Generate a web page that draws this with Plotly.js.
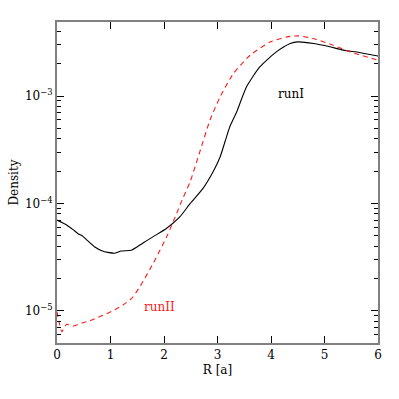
<!DOCTYPE html>
<html>
<head>
<meta charset="utf-8">
<script src="https://cdn.plot.ly/plotly-3.0.1.min.js"></script>
<style>
  html, body { margin: 0; padding: 0; background: #fff; }
  #chart { width: 399px; height: 399px; }
</style>
</head>
<body>
<div id="chart"></div>
<script>
// runI (solid black)
var runI_R = [0, 0.18, 0.3, 0.4, 0.47, 0.55, 0.7, 0.85, 0.95, 1.08, 1.2, 1.4, 1.6, 1.8, 2.05, 2.3, 2.49, 2.73, 2.92, 3.05, 3.15, 3.23, 3.36, 3.45, 3.55, 3.79, 4.1, 4.36, 4.5, 4.8, 5.1, 5.35, 5.65, 6.0];
var runI_D = [7.0e-5, 6.3e-5, 5.7e-5, 5.2e-5, 5.0e-5, 4.6e-5, 3.95e-5, 3.6e-5, 3.5e-5, 3.44e-5, 3.6e-5, 3.69e-5, 4.26e-5, 4.91e-5, 5.88e-5, 7.54e-5, 1.0e-4, 1.38e-4, 1.98e-4, 2.72e-4, 3.9e-4, 5.18e-4, 7.14e-4, 9.4e-4, 1.24e-3, 1.87e-3, 2.58e-3, 3.09e-3, 3.2e-3, 3.09e-3, 2.88e-3, 2.68e-3, 2.55e-3, 2.36e-3];

// runII (dashed red)
var runII_R = [0, 0.04, 0.09, 0.18, 0.3, 0.46, 0.62, 0.77, 0.93, 1.08, 1.24, 1.4, 1.55, 1.8, 2.05, 2.21, 2.34, 2.49, 2.67, 2.86, 3.05, 3.3, 3.61, 3.99, 4.3, 4.51, 4.79, 5.16, 5.48, 6.0];
var runII_D = [9.8e-6, 7.8e-6, 6.4e-6, 7.5e-6, 7.2e-6, 7.7e-6, 8.1e-6, 8.7e-6, 9.4e-6, 1.02e-5, 1.14e-5, 1.31e-5, 1.68e-5, 2.78e-5, 4.9e-5, 7.5e-5, 1.08e-4, 1.6e-4, 3.03e-4, 5.98e-4, 9.86e-4, 1.63e-3, 2.4e-3, 3.2e-3, 3.56e-3, 3.64e-3, 3.44e-3, 2.98e-3, 2.58e-3, 2.16e-3];

// tick labels
var yTickVals = [1e-5, 1e-4, 1e-3];
var yTickText = ['10<sup>\u22125</sup>', '10<sup>\u22124</sup>', '10<sup>\u22123</sup>'];
var yMinorVals = [];
[1e-6, 1e-5, 1e-4, 1e-3].forEach(function (d) {
    for (var m = 2; m <= 9; m++) yMinorVals.push(m * d);
});

var serif = 'DejaVu Serif, serif';

var traceI = {
    x: runI_R, y: runI_D,
    mode: 'lines', name: 'runI',
    line: { color: '#000', width: 1.1, shape: 'spline', smoothing: 0.6 }
};

var traceII = {
    x: runII_R, y: runII_D,
    mode: 'lines', name: 'runII',
    line: { color: '#ff1a1a', width: 1.1, dash: '5px,4px', shape: 'spline', smoothing: 0.6 }
};

var layout = {
    width: 399, height: 399,
    margin: { l: 57, r: 21, t: 22, b: 56 },
    paper_bgcolor: '#fff', plot_bgcolor: '#fff',
    showlegend: false,
    font: { family: serif, size: 12, color: '#000' },
    xaxis: {
        range: [0, 6], autorange: false,
        dtick: 1, tick0: 0,
        ticks: 'inside', ticklen: 7, tickcolor: '#000', tickwidth: 1,
        showline: true, linecolor: '#808080', linewidth: 2, mirror: 'ticks',
        showgrid: false, zeroline: false,
        tickfont: { family: serif, size: 12 },
        title: { text: 'R [a]', font: { family: serif, size: 12 }, standoff: 4 }
    },
    yaxis: {
        type: 'log',
        range: [-5.3, -2.31], autorange: false,
        tickmode: 'array', tickvals: yTickVals, ticktext: yTickText,
        ticks: 'inside', ticklen: 7, tickcolor: '#000', tickwidth: 1,
        minor: { tickmode: 'array', tickvals: yMinorVals, ticks: 'inside', ticklen: 4, tickcolor: '#000' },
        showline: true, linecolor: '#808080', linewidth: 2, mirror: 'ticks',
        showgrid: false, zeroline: false,
        tickfont: { family: serif, size: 12 },
        title: { text: 'Density', font: { family: serif, size: 12 }, standoff: 4 }
    },
    annotations: [
        { x: 4.37, y: -2.98, xref: 'x', yref: 'y', text: 'runI', showarrow: false,
          font: { family: serif, size: 12, color: '#000' } },
        { x: 1.91, y: -4.963, xref: 'x', yref: 'y', text: 'runII', showarrow: false,
          font: { family: serif, size: 12, color: '#ff1a1a' } }
    ]
};

Plotly.newPlot('chart', [traceI, traceII], layout, { displayModeBar: false, staticPlot: true });
</script>
</body>
</html>
